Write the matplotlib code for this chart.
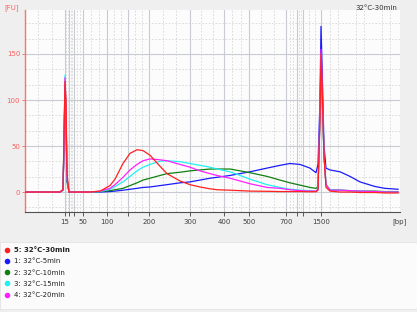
import matplotlib
matplotlib.use("Agg")
import matplotlib.pyplot as plt
from matplotlib.lines import Line2D
from matplotlib.patches import Rectangle

# migration position (chart units) at which every trace is sampled
x = [25, 60, 63, 64, 65, 66, 67, 69,
     90, 100, 110, 115, 123, 130, 137, 143, 150, 160,
     167, 180, 190, 200, 210, 217, 230,
     250, 267, 280, 290, 300, 310, 316, 318,
     320, 321, 322, 324, 326, 330,
     340, 350, 360, 375, 385, 398]

fu_30min = [0, 0, 3, 60, 120, 100, 20, 0,
            0, 1, 7, 14, 31, 42, 46, 45, 40, 28,
            20, 12, 8, 5.5, 3.5, 2.5, 2,
            1, 0.8, 0.5, 0.5, 0.5, 0.3, 0.3, 2,
            80, 150, 120, 40, 5, 1,
            0, 0, -0.5, -0.5, -1, -1]
fu_5min = [0, 0, 2, 50, 115, 80, 12, 0,
           0, 0, 0.5, 1, 2, 3, 4, 5, 5.5, 7,
           8, 10, 11, 13, 15, 16, 18,
           22, 26, 29, 31, 30, 26, 21, 30,
           100, 180, 140, 50, 26, 24,
           22, 17, 11, 6, 4, 3]
fu_10min = [0, 0, 2, 50, 110, 85, 12, 0,
            0, 0.5, 1.5, 2.5, 4, 7, 10, 13, 15, 18,
            20, 21.5, 23, 24, 25, 25, 25,
            21, 17, 13, 10, 7.5, 5, 4, 6,
            80, 145, 110, 40, 8, 2.5,
            2, 1.5, 1, 1, 0.5, 0.5]
fu_15min = [0, 0, 2, 55, 127, 95, 15, 0,
            0, 0.5, 3, 6, 11, 17, 23, 27, 30, 33.5,
            34, 33, 31, 29, 27, 25, 22,
            14, 8, 5, 3, 2, 1.5, 1, 3,
            85, 150, 115, 40, 8, 2.5,
            2, 1.5, 1, 0.5, 0, 0]
fu_20min = [0, 0, 2, 50, 124, 90, 15, 0,
            0, 1, 4, 8, 16, 24, 30, 34, 36, 35,
            34, 30, 27, 23, 20, 18, 15,
            9, 5, 4, 2.5, 1.5, 1, 1, 3,
            90, 155, 120, 40, 8, 2,
            2, 1.5, 1, 0.5, 0, 0]

# ladder bands (positions and bp labels)
ladder_pos = [65, 69, 74, 83, 107, 128, 149, 190, 224, 249, 286, 297, 303, 321]
ladder_lab = ["15", "", "", "50", "100", "", "200", "300", "400", "500", "700", "", "", "1500"]

samples = [
    ("1: 32°C-5min", fu_5min, "#1a1aff"),
    ("2: 32°C-10min", fu_10min, "#108010"),
    ("3: 32°C-15min", fu_15min, "#20f0f0"),
    ("4: 32°C-20min", fu_20min, "#ff20ff"),
    ("5: 32°C-30min", fu_30min, "#ff2020"),
]

fig = plt.figure(figsize=(4.17, 3.12), dpi=100)
fig.patch.set_facecolor("#efefef")
fig.patches.append(Rectangle((0, 0.01), 1, 0.214, transform=fig.transFigure,
                             facecolor="#fbfbfb", edgecolor="#e4e4e4", lw=0.6, zorder=0))

ax = fig.add_axes([25 / 417, 1 - 212 / 312, 375 / 417, 202 / 312])
ax.set_facecolor("#fcfcfc")
ax.set_xlim(25, 400)
ax.set_ylim(-21.7, 197.8)

# grid: solid at ladder/major, dashed at thirds in between
majors_x = [25] + ladder_pos + [347, 373, 399]
for p in ladder_pos:
    ax.axvline(p, color="#c8cbd1", lw=0.8, zorder=1)
for a, b in zip(majors_x[:-1], majors_x[1:]):
    for f in (1 / 3, 2 / 3):
        ax.axvline(a + (b - a) * f, color="#d6d6d6", lw=0.6, ls=(0, (2, 2)), zorder=1)
for v in [0, 50, 100, 150]:
    ax.axhline(v, color="#c8cbd1", lw=0.8, zorder=1)
for v in [-50 / 3, 50 / 3, 100 / 3, 200 / 3, 250 / 3, 350 / 3, 400 / 3, 500 / 3, 550 / 3]:
    ax.axhline(v, color="#d6d6d6", lw=0.6, ls=(0, (2, 2)), zorder=1)

for label, y, c in samples:
    ax.plot(x, y, color=c, lw=0.9, zorder=3)

ax.set_yticks([0, 50, 100, 150])
ax.set_xticks(ladder_pos)
ax.set_xticklabels(ladder_lab)
ax.tick_params(axis="y", labelsize=5, colors="#ff6060", length=2, width=0.6, pad=1.5)
ax.tick_params(axis="x", labelsize=5, colors="#404040", length=3, width=0.6, pad=2)
for s in ["top", "right"]:
    ax.spines[s].set_visible(False)
ax.spines["left"].set_color("#ff7070")
ax.spines["left"].set_linewidth(1.0)
ax.spines["bottom"].set_color("#505050")
ax.spines["bottom"].set_linewidth(0.8)

fig.text(4 / 417, 1 - 8 / 312, "[FU]", fontsize=5, color="#ff6060", va="center", ha="left")
fig.text(407 / 417, 1 - 222 / 312, "[bp]", fontsize=5, color="#404040", va="center", ha="right")
fig.text(397 / 417, 1 - 8 / 312, "32°C-30min", fontsize=5, color="#303030", va="center", ha="right")

# legend: selected sample first, then the rest
order = [4, 0, 1, 2, 3]
handles = [Line2D([], [], ls="none", marker="o", ms=3, color=samples[i][2]) for i in order]
labels = [samples[i][0] for i in order]
leg = fig.legend(handles, labels, loc="upper left", bbox_to_anchor=(0.0, 1 - 243 / 312),
                 frameon=False, fontsize=5, handlelength=0.8, handletextpad=0.6,
                 labelspacing=0.75, borderaxespad=0.2)
leg.get_texts()[0].set_fontweight("bold")
for t in leg.get_texts():
    t.set_color("#202020")

fig.savefig("out.png", dpi=100, facecolor=fig.get_facecolor())
